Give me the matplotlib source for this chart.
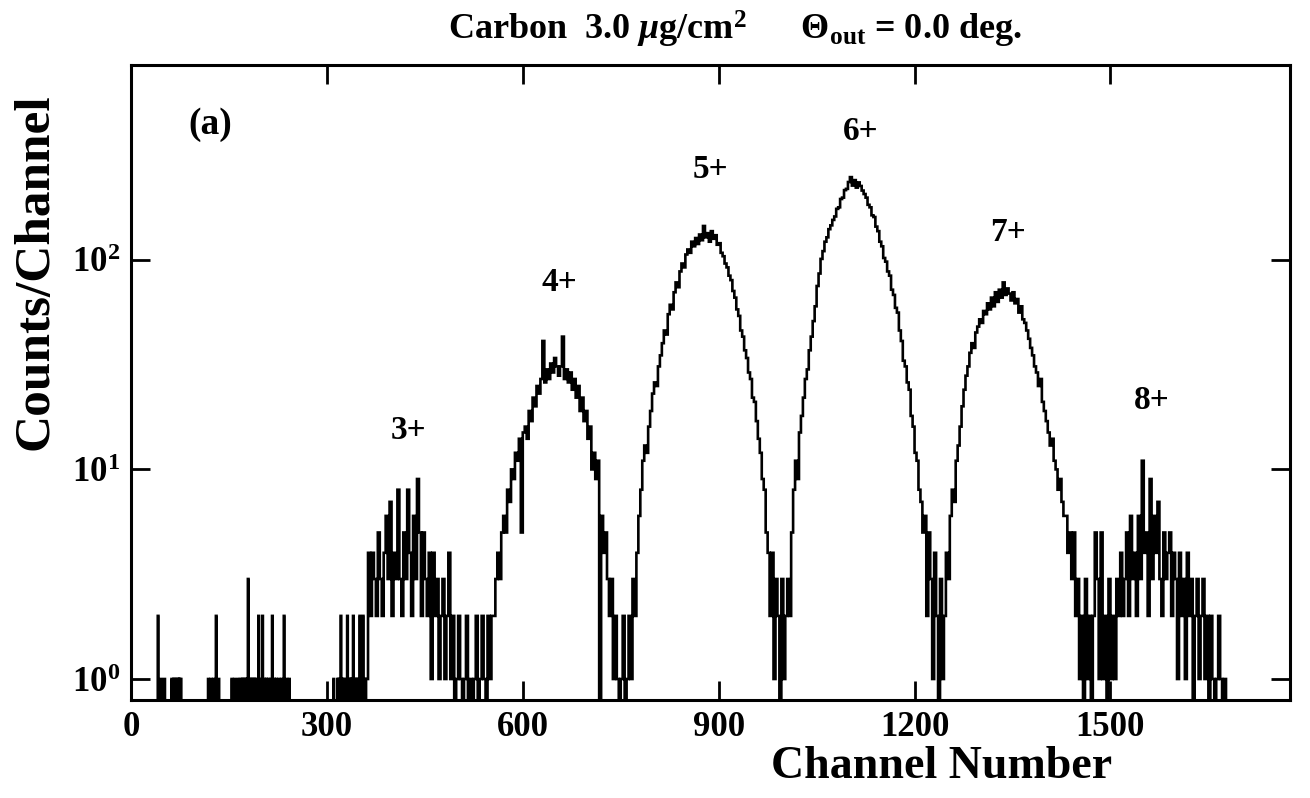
import numpy as np
import matplotlib
matplotlib.use("Agg")
import matplotlib.pyplot as plt
from matplotlib.ticker import NullLocator

plt.rcParams['font.family'] = ['Liberation Serif', 'DejaVu Serif']
plt.rcParams['font.weight'] = 'bold'
plt.rcParams['mathtext.fontset'] = 'custom'
plt.rcParams['mathtext.rm'] = 'Liberation Serif:bold'
plt.rcParams['mathtext.it'] = 'Liberation Serif:italic:bold'
plt.rcParams['mathtext.bf'] = 'Liberation Serif:bold'
plt.rcParams['mathtext.default'] = 'it'

# ---------------- data ----------------
n_channels = 1775
bin_width = 3

# sparse background counts (single channels)
bg_channels = [41, 46, 51, 62, 65, 67, 70, 72, 74, 76, 118, 122, 126, 130, 134,
               154, 158, 163, 167, 170, 172, 175, 177, 179, 181, 184, 186, 189,
               191, 195, 198, 201, 204, 207, 210, 214, 216, 219, 222, 226, 230,
               234, 238, 242, 310, 316, 318, 321, 323, 325, 329, 331, 334, 336,
               338, 340, 343, 345, 348, 350, 352, 355, 358]
bg_counts = [2, 1, 1, 1, 1, 1, 1, 1, 1, 1, 1, 1, 1, 2, 1,
             1, 1, 1, 1, 1, 1, 1, 1, 3, 1, 1, 1, 1,
             1, 2, 1, 2, 1, 1, 1, 1, 2, 1, 1, 1, 1,
             2, 1, 1, 1, 1, 1, 2, 1, 1, 1, 2, 1, 1,
             1, 2, 1, 1, 1, 2, 1, 2, 1]

# charge-state peaks, counts per 3-channel group
start_3plus = 360
counts_3plus = [1, 4, 2, 4, 3, 2, 5, 3, 2, 4, 6, 3, 7, 2, 4, 3, 8, 3, 2, 5,
                3, 8, 4, 2, 6, 3, 9, 5, 2, 5, 3, 2, 4, 1, 4, 2, 3, 1, 2, 3,
                1, 2, 4, 1, 2, 0, 1, 2, 1, 0, 1, 2, 0, 1, 0, 1, 2, 0, 1, 2,
                1, 0, 2, 1, 2]
start_4plus = 555
counts_4plus = [2, 3, 4, 3, 5, 6, 5, 8, 7, 10, 9, 12, 11, 14, 5, 15, 16, 14, 19, 17,
                22, 20, 25, 23, 27, 41, 26, 30, 27, 32, 29, 34, 31, 28, 31, 43, 27, 30, 26,
                29, 24, 27, 22, 25, 19, 22, 17, 19, 14, 16, 10, 12, 9, 11, 0, 6, 4, 5,
                3, 2, 3, 1, 2, 1, 0, 1, 2, 0, 1, 2, 1, 3, 2]
start_5plus = 774
counts_5plus = [4, 6, 8, 11, 13, 12, 16, 19, 23, 26, 25, 31, 35, 40, 46, 44, 55, 61, 58, 70,
                78, 74, 88, 96, 92, 106, 112, 108, 122, 116, 127, 119, 132, 124, 145, 128,
                134, 122, 137, 126, 131, 118, 120, 108, 104, 96, 92, 84, 80, 71, 66, 58,
                54, 46, 43, 37, 34, 29, 27, 22, 21, 17, 14, 12, 9, 8, 5, 4, 2, 4, 1, 3,
                2, 0, 3, 1, 2]
start_6plus = 1005
counts_6plus = [3, 2, 5, 8, 11, 9, 15, 18, 22, 27, 30, 37, 43, 51, 60, 75, 86, 101, 110, 122,
                128, 140, 146, 155, 161, 175, 178, 195, 198, 215, 218, 235, 248, 226, 240,
                221, 234, 225, 214, 206, 198, 183, 178, 163, 160, 144, 137, 122, 116, 102,
                98, 88, 84, 72, 68, 59, 56, 46, 41, 33, 31, 26, 24, 18, 16, 12, 11, 8, 7,
                5, 6, 2, 5, 3, 1, 4, 2, 0, 3, 1]
start_7plus = 1245
counts_7plus = [2, 4, 3, 6, 8, 7, 11, 13, 16, 20, 24, 28, 31, 36, 40, 38, 45, 48, 52, 50,
                57, 55, 62, 58, 66, 60, 70, 63, 72, 66, 78, 68, 73, 69, 64, 70, 62, 65, 56,
                60, 52, 50, 46, 42, 38, 35, 31, 29, 25, 27, 21, 19, 17, 15, 13, 14, 11, 10,
                8, 9, 7, 6, 6, 4, 5, 3, 5, 2, 3, 1, 2, 0, 3, 1, 2, 0, 2, 5, 3, 1]
start_8plus = 1485
counts_8plus = [5, 1, 2, 0, 3, 1, 2, 1, 3, 2, 4, 2, 3, 5, 2, 6, 3, 4, 2, 6,
                3, 11, 4, 5, 2, 9, 3, 6, 4, 7, 3, 2, 5, 3, 4, 5, 2, 4, 3, 1,
                4, 2, 3, 1, 4, 2, 3, 0, 2, 3, 1, 2, 3, 1, 2, 0, 2, 1, 0, 1,
                2, 1, 0, 1, 0, 0, 0, 0, 0]

peak_labels = ['3+', '4+', '5+', '6+', '7+', '8+']
x_ticks = [0, 300, 600, 900, 1200, 1500]
y_ticks = [1, 10, 100]
y_tick_labels = [r'$10^{0}$', r'$10^{1}$', r'$10^{2}$']

# ---------------- assemble spectrum ----------------
counts = np.zeros(n_channels)
for ch, c in zip(bg_channels, bg_counts):
    counts[ch] = c
regions = [(start_3plus, counts_3plus), (start_4plus, counts_4plus),
           (start_5plus, counts_5plus), (start_6plus, counts_6plus),
           (start_7plus, counts_7plus), (start_8plus, counts_8plus)]
for start, vals in regions:
    for i, v in enumerate(vals):
        a = start + bin_width * i
        counts[a:a + bin_width] = v

edges = np.arange(n_channels + 1)
display = np.where(counts > 0, counts, 0.5)  # empty channels drop below the axis

# ---------------- figure ----------------
W, H = 1310, 798
fig = plt.figure(figsize=(W / 100, H / 100), dpi=100)
ax = fig.add_axes([131 / W, (H - 700) / H, 1159 / W, 635 / H])

ax.stairs(display, edges, baseline=None, color='black', lw=1.9)
ax.set_yscale('log')
ax.set_xlim(0, n_channels)
ax.set_ylim(0.794, 850)

ax.set_xticks(x_ticks)
ax.set_xticklabels([str(t) for t in x_ticks])
ax.set_yticks(y_ticks)
ax.set_yticklabels(y_tick_labels)
ax.yaxis.set_minor_locator(NullLocator())
ax.xaxis.set_minor_locator(NullLocator())
ax.tick_params(axis='both', which='major', direction='in', length=14, width=2,
               top=True, right=True, labelsize=25, pad=8)
for sp in ax.spines.values():
    sp.set_linewidth(2.2)

# peak labels (axes-fraction positions)
label_pos = [(0.239, 0.425), (0.370, 0.658), (0.500, 0.835),
             (0.630, 0.896), (0.757, 0.737), (0.881, 0.471)]
for txt, (px, py) in zip(peak_labels, label_pos):
    ax.text(px, py, txt, transform=ax.transAxes, ha='center', va='center',
            fontsize=24, fontweight='bold')
ax.text(0.068, 0.906, '(a)', transform=ax.transAxes, ha='center', va='center',
        fontsize=27, fontweight='bold')

fig.text(735 / W, 1 - 40 / H,
         r'Carbon  3.0 $\mu$g/cm$^2$      Θ$_{\mathrm{out}}$ = 0.0 deg.',
         ha='center', va='baseline', fontsize=26, fontweight='bold')
fig.text(942 / W, 1 - 778 / H, 'Channel Number', ha='center', va='baseline',
         fontsize=33, fontweight='bold')
fig.text(36 / W, 1 - 272 / H, 'Counts/Channel', rotation=90, ha='center',
         va='center', fontsize=37, fontweight='bold')

fig.savefig('out.png', dpi=100)
